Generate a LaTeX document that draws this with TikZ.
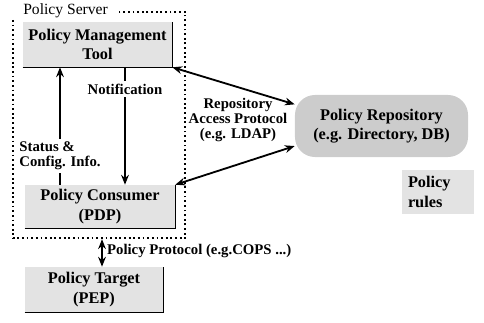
\documentclass[tikz,border=0pt]{standalone}
\usepackage{fontspec}
\setmainfont{Liberation Serif}
\usetikzlibrary{arrows.meta,shapes,fit,calc,positioning}

\begin{document}
\begin{tikzpicture}[x=0.025cm,y=-0.025cm,
  box/.style={fill=gray!22,align=center,font=\fontsize{11.6}{14}\selectfont\bfseries,inner sep=2pt},
  lbl/.style={align=center,font=\fontsize{10.5}{10.5}\selectfont\bfseries,inner sep=2pt},
  line/.style={line width=1.3pt},
  link/.style={line width=1.3pt,-{Stealth[length=7pt,width=5.5pt]}},
  dlink/.style={line width=1.3pt,{Stealth[length=7pt,width=5.5pt]}-{Stealth[length=7pt,width=5.5pt]}}]

\useasboundingbox (0,0) rectangle (484,322);

\node[box,minimum width=3.725cm,minimum height=1.125cm](pmt) at (97.5,44.5) {Policy Management\\Tool};
\node[box,minimum width=3.75cm,minimum height=1.075cm](pdp) at (100,206.5) {Policy Consumer\\(PDP)};
\node[box,minimum width=3.45cm,minimum height=1.125cm](pep) at (94,289.5) {Policy Target\\(PEP)};
\foreach \n in {pmt,pdp,pep}
  \draw[line width=1pt] (\n.south west) -- (\n.south east) -- (\n.north east);

\node[draw,dotted,line width=1.3pt,fit=(pmt)(pdp),inner sep=0.25cm](server) {};
\node[anchor=west,fill=white,inner xsep=8pt,inner ysep=1pt,font=\fontsize{11.1}{13}\selectfont](servername) at (server.north west) {Policy Server};

\node[box,fill=gray!40,rounded corners=0.5cm,minimum width=4.325cm,minimum height=1.55cm](repo) at (381.5,126) {Policy Repository\\(e.g. Directory, DB)};
\node[box,align=left,inner sep=4pt,text width=1.5cm,minimum height=1.1cm](rules) at (438,192) {Policy\\rules};

% status and notification between tool and consumer
\node[lbl,align=left](stat) at (60,156) {Status \&\\Config. Info.};
\draw[link] (stat.north) -- (stat.north |- pmt.south);
\draw[line] (stat.south) -- (stat.south |- pdp.north);

\node[lbl](notif) at (125,89) {Notification};
\draw[line] (notif.north) -- (notif.north |- pmt.south);
\draw[link] (notif.south) -- (notif.south |- pdp.north);

% repository access
\draw[dlink] (pmt.south east) -- (repo.166);
\draw[dlink] (pdp.north east) -- (repo.193);
\node[lbl](rap) at (238,120) {Repository\\Access Protocol\\(e.g. LDAP)};

% policy protocol
\coordinate (ptop) at ([xshift=0.075cm]server.south);
\draw[dlink] (ptop) -- (ptop |- pep.north);
\node[lbl,anchor=west](pp) at (104,251) {Policy Protocol (e.g.COPS ...)};

\end{tikzpicture}
\end{document}
